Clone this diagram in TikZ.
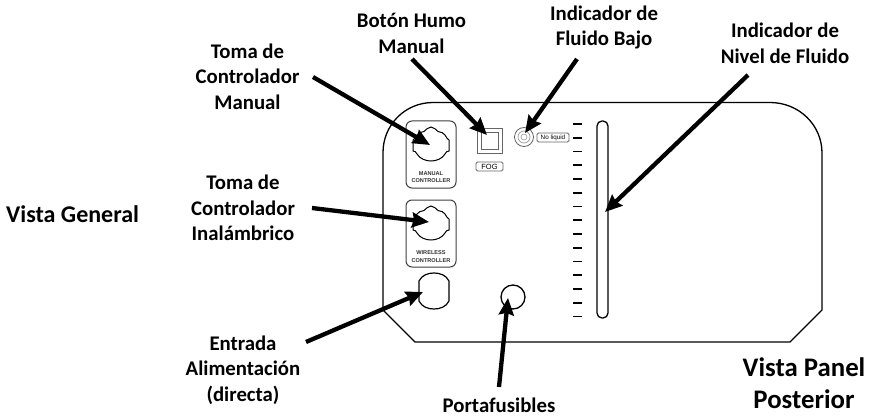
\documentclass[tikz,border=0pt]{standalone}
\usepackage{fontspec}
\setmainfont{Carlito}
\usetikzlibrary{arrows.meta}
\setsansfont{Liberation Sans}
\tikzset{
  lbl/.style={font=\fontsize{20.8}{25.5}\selectfont\bfseries, align=center, inner sep=0pt, text=black},
  big/.style={font=\fontsize{26.8}{32}\selectfont\bfseries, align=center, inner sep=0pt, text=black},
  panel/.style={draw=black, line width=1.3pt},
  part/.style={draw=black!75, line width=1pt},
  thin part/.style={draw=black!60, line width=.8pt},
  tiny/.style={font=\fontsize{5.6}{7.2}\selectfont\sffamily\bfseries, align=center, inner sep=0pt, text=black!80},
  callout/.style={-{Stealth[length=17pt,width=15pt,inset=2pt]}, line width=4.3pt, black},
  tickmark/.style={draw=black, line width=1.8pt}
}
\begin{document}
\begin{tikzpicture}[x=1pt,y=-1pt]
\useasboundingbox (0,0) rectangle (873,417);
\fill[white] (0,0) rectangle (873,417);
% panel
\draw[panel] (433,102.5) -- (770,102.5) .. controls (799,102.5) and (822,125) .. (822,153) -- (822,310) -- (790,342) -- (415,342) -- (383,310) -- (383,152.5) .. controls (383,125) and (405,102.5) .. (433,102.5) -- cycle;
% sockets
\node[part, rounded corners=6pt, minimum width=50pt, minimum height=67pt, inner sep=0pt] (manbox) at (431,154.5) {};
\node[part, rounded corners=6pt, minimum width=50pt, minimum height=67pt, inner sep=0pt] (wirbox) at (431,233.5) {};
\foreach \dy in {0,79}{
\begin{scope}[yshift=-\dy pt]
\draw[black, line width=1pt] (431,127) .. controls (428,127) and (426,130) .. (424,131.5)
  .. controls (421,132) and (418,133) .. (417,135) .. controls (416,138) and (414,139) .. (413,140) -- (413,151)
  .. controls (415,151) and (416,152) .. (417,154) .. controls (420,159) and (426,161) .. (431,161)
  .. controls (436,161) and (442,159) .. (445,154) .. controls (446,152) and (447,151) .. (449,151) -- (449,140)
  .. controls (448,139) and (446,138) .. (445,135) .. controls (444,133) and (441,132) .. (438,131.5)
  .. controls (436,130) and (434,127) .. (431,127) -- cycle;
\end{scope}}
\node[tiny] (mantxt) at (431,177.5) {MANUAL\\CONTROLLER};
\node[tiny] (wirtxt) at (431,256.5) {WIRELESS\\CONTROLLER};
% power socket
\draw[black, line width=1.2pt] (419,281) .. controls (422,275) and (428,273) .. (434,273)
  .. controls (440,273) and (446,275) .. (449,281) -- (449,301)
  .. controls (446,307) and (440,309) .. (434,309) .. controls (428,309) and (422,307) .. (419,301) -- cycle;
% fuse
\node[draw=black, line width=1.3pt, circle, minimum size=24pt, inner sep=0pt] (fuse) at (513,297) {};
% fog button
\node[thin part, minimum size=25pt, inner sep=0pt] (fogouter) at (489.5,140.5) {};
\node[thin part, minimum size=17pt, inner sep=0pt] (foginner) at (489.5,140.5) {};
\node[thin part, rounded corners=1.5pt, minimum width=27pt, minimum height=9pt, inner sep=0pt, font=\fontsize{7.5}{8}\selectfont\sffamily] (fog) at (489.5,166.5) {FOG};
% low fluid indicator
\node[thin part, circle, minimum size=19pt, inner sep=0pt] (led) at (524,137) {};
\node[draw=black!40, line width=.7pt, circle, minimum size=12pt, inner sep=0pt] (ledb) at (524,137) {};
\node[draw=black!40, line width=.6pt, circle, minimum size=6pt, inner sep=0pt] (ledc) at (524,137) {};
\node[thin part, rounded corners=1.5pt, minimum width=32pt, minimum height=9pt, inner sep=0pt, font=\fontsize{6.3}{7}\selectfont\sffamily] (noliq) at (553,137.5) {No liquid};
% ticks
\foreach \i in {0,...,14}{
  \draw[tickmark] (573,124+13.75*\i) -- (582,124+13.75*\i);
}
% level slot
\node[panel, rounded corners=5pt, minimum width=11pt, minimum height=197pt, inner sep=0pt] (slot) at (602.5,219.5) {};
% labels
\node[lbl] (tmanual) at (247.5,76.5) {Toma de\\Controlador\\Manual};
\node[lbl] (thumo) at (411.5,33.5) {Botón Humo\\Manual};
\node[lbl] (tbajo) at (604,27.5) {Indicador de\\Fluido Bajo};
\node[lbl] (tnivel) at (785,43.5) {Indicador de\\Nivel de Fluido};
\node[lbl] (tinal) at (243,208) {Toma de\\Controlador\\Inalámbrico};
\node[lbl] (tentrada) at (243,370) {Entrada\\Alimentación\\(directa)};
\node[lbl] (tporta) at (499,405) {Portafusibles};
\node[big, font=\fontsize{24}{30}\selectfont\bfseries, anchor=west] (tvista) at (6,214) {Vista General};
\node[big] (tpanel) at (804,383.5) {Vista Panel\\Posterior};
% callouts
\coordinate (amanS) at (313,77); \coordinate (amanE) at (430,145);
\coordinate (ahumS) at (412,59); \coordinate (ahumE) at (487,135);
\coordinate (abajS) at (577,59); \coordinate (abajE) at (525,133);
\coordinate (anivS) at (748,75); \coordinate (anivE) at (605,212);
\coordinate (ainaS) at (312,208); \coordinate (ainaE) at (429,222);
\coordinate (aentS) at (306,342); \coordinate (aentE) at (423,292);
\coordinate (apoS) at (499,387); \coordinate (apoE) at (508,298);
\draw[callout] (amanS) -- (amanE);
\draw[callout] (ahumS) -- (ahumE);
\draw[callout] (abajS) -- (abajE);
\draw[callout] (anivS) -- (anivE);
\draw[callout] (ainaS) -- (ainaE);
\draw[callout] (aentS) -- (aentE);
\draw[callout] (apoS) -- (apoE);
\end{tikzpicture}
\end{document}
